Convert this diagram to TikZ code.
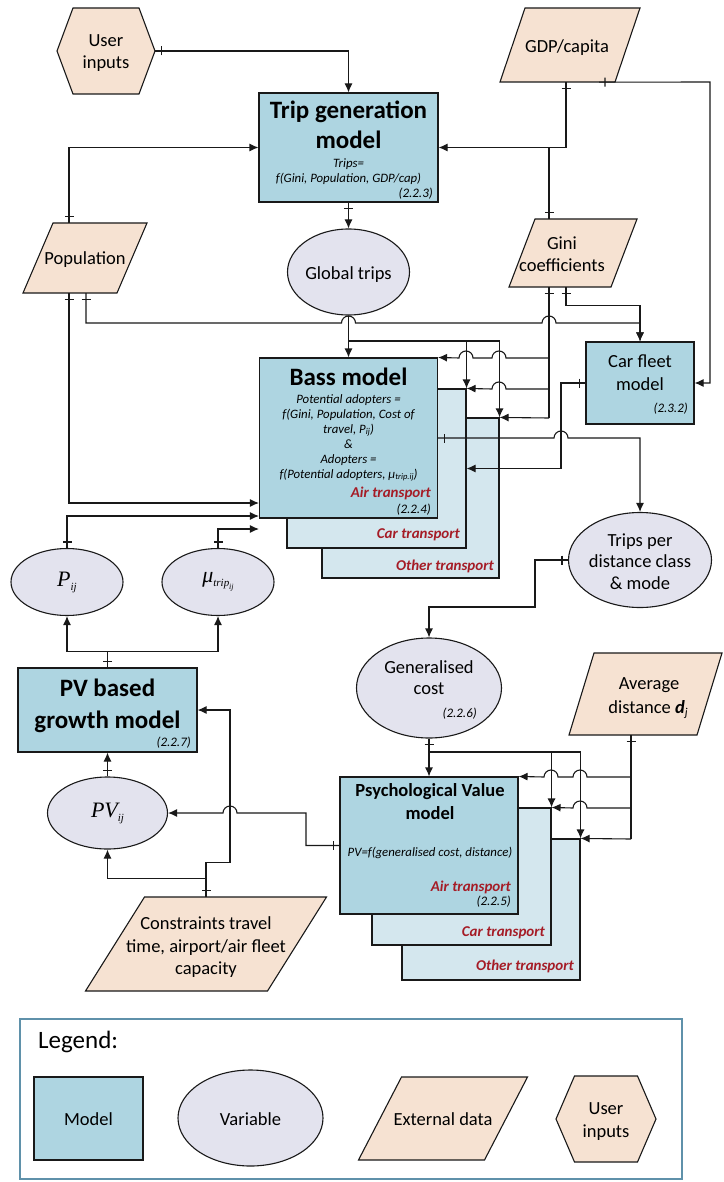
\documentclass[tikz,border=0pt]{standalone}
\usepackage{fontspec}
\setmainfont{Carlito}
\newfontfamily\tms{Liberation Serif}
\usetikzlibrary{arrows.meta,shapes.geometric,decorations.markings}

\definecolor{modelfill}{RGB}{174,213,225}
\definecolor{layerfill}{RGB}{212,231,238}
\definecolor{varfill}{RGB}{227,227,238}
\definecolor{datafill}{RGB}{246,226,210}
\definecolor{redtx}{RGB}{165,28,38}
\definecolor{legbord}{RGB}{95,145,170}
\definecolor{lncol}{RGB}{25,25,25}

\newcommand\fbig{\fontsize{25}{30}\selectfont\bfseries}
\newcommand\fmidb{\fontsize{18.5}{22}\selectfont\bfseries}
\newcommand\freg{\fontsize{18.5}{22}\selectfont}
\newcommand\fsit{\fontsize{12.8}{15}\selectfont\itshape}
\newcommand\fnum{\fontsize{13}{15}\selectfont\itshape}
\newcommand\fred{\fontsize{15}{18}\selectfont\bfseries\itshape}
\newcommand\fleg{\fontsize{25}{30}\selectfont}
\newcommand\sbs[1]{\raisebox{-4pt}{\fontsize{11}{11}\selectfont #1}}

% parallelogram: name, cx, cy, w, h, slant
\newcommand\pgram[6]{%
  \filldraw[shp] ({#2-#4/2+#6/2},{#3-#5/2}) -- ({#2+#4/2+#6/2},{#3-#5/2})
    -- ({#2+#4/2-#6/2},{#3+#5/2}) -- ({#2-#4/2-#6/2},{#3+#5/2}) -- cycle;
  \node[holder, minimum width=#4pt, minimum height=#5pt] (#1) at (#2,#3) {};}
% hexagon: name, cx, cy, total width, top width, height
\newcommand\myhex[6]{%
  \filldraw[shp] ({#2-#4/2},#3) -- ({#2-#5/2},{#3-#6/2}) -- ({#2+#5/2},{#3-#6/2})
    -- ({#2+#4/2},#3) -- ({#2+#5/2},{#3+#6/2}) -- ({#2-#5/2},{#3+#6/2}) -- cycle;
  \node[holder, minimum width=#4pt, minimum height=#6pt] (#1) at (#2,#3) {};}

\begin{document}
\begin{tikzpicture}[x=1pt,y=-1pt,
  mbox/.style={rectangle, draw=lncol, line width=1.1pt, fill=modelfill, inner sep=0},
  lbox/.style={rectangle, draw=lncol, line width=1.1pt, fill=layerfill, inner sep=0},
  var/.style={ellipse, draw=lncol, line width=1.1pt, fill=varfill, inner sep=0},
  holder/.style={rectangle, draw=none, inner sep=0},
  shp/.style={draw=lncol, line width=1.1pt, fill=datafill},
  wire/.style={draw=lncol, line width=1.1pt},
  conn/.style={wire, -{Latex[length=9pt,width=8pt]}},
  tk/.style={postaction=decorate, decoration={markings,
     mark=at position 6pt with {\draw[lncol, line width=1.1pt, -] (0pt,-4.5pt) -- (0pt,4.5pt);}}},
  tb/.style={inner sep=0, font=\fbig, text height=17.5pt, text depth=0pt},
  tmb/.style={inner sep=0, font=\fmidb, text height=13pt, text depth=0pt},
  tr/.style={inner sep=0, font=\freg, text height=13pt, text depth=0pt},
  ti/.style={inner sep=0, font=\fsit, text height=8.9pt, text depth=0pt},
  tn/.style={inner sep=0, font=\fnum, text height=9pt, text depth=0pt},
  tred/.style={inner sep=0, font=\fred, text=redtx, text height=10.5pt, text depth=0pt},
  tser/.style={inner sep=0, font=\fontsize{22}{22}\selectfont\tms\itshape}
]
\useasboundingbox (0,0) rectangle (723,1182);
\fill[white] (0,0) rectangle (723,1182);

% ---------------- shapes ----------------
\myhex{ui}{106}{51}{98}{66}{86}
\pgram{gdp}{570}{45}{115}{74}{25}
\pgram{pop}{85}{258}{94}{70}{30}
\pgram{gini}{573}{253}{102}{68}{26}
\pgram{ad}{645.5}{694}{128}{82}{25}
\pgram{cons}{206}{944}{182}{94}{59}

\node[mbox, minimum width=179pt, minimum height=109pt] (tg) at (348.5,147.5) {};
\node[var, minimum width=122pt, minimum height=86pt] (gt) at (348.5,272) {};

\node[lbox, minimum width=177pt, minimum height=160pt] (both) at (410.5,498) {};
\node[lbox, minimum width=179pt, minimum height=159pt] (bcar) at (376.5,468.5) {};
\node[mbox, minimum width=178pt, minimum height=160pt] (bass) at (348.5,438) {};

\node[mbox, minimum width=108pt, minimum height=82pt] (cf) at (640,383) {};
\node[var, minimum width=143pt, minimum height=95pt] (tp) at (640,560) {};
\node[var, minimum width=112pt, minimum height=67pt] (pij) at (67,582) {};
\node[var, minimum width=112pt, minimum height=67pt] (mu) at (218,582) {};
\node[mbox, minimum width=179pt, minimum height=84pt] (pvg) at (107.5,710) {};
\node[var, minimum width=120pt, minimum height=72pt] (pvij) at (107.5,813) {};
\node[var, minimum width=145pt, minimum height=100pt] (gc) at (429,688) {};

\node[lbox, minimum width=178pt, minimum height=141pt] (poth) at (491,909.5) {};
\node[lbox, minimum width=179pt, minimum height=137pt] (pcar) at (461.5,876.5) {};
\node[mbox, minimum width=178pt, minimum height=137pt] (pvm) at (429,845.5) {};

% ---------------- texts ----------------
\node[tr] (uit1) at (106,40) {User};
\node[tr] (uit2) at (106,62) {inputs};
\node[tr] (gdpt) at (567,46) {GDP/capita};
\node[tr] (popt) at (85,258) {Population};
\node[tr] (ginit1) at (562,243) {Gini};
\node[tr] (ginit2) at (562,265) {coefficients};
\node[tr] (gtt) at (348.5,273) {Global trips};

\node[tb] (tgt1) at (348.5,110) {Trip generation};
\node[tb] (tgt2) at (348.5,140) {model};
\node[ti] (tgt3) at (348.5,163) {Trips=};
\node[ti] (tgt4) at (348.5,178) {f(Gini, Population, GDP/cap)};
\node[tn, anchor=east] (tgt5) at (433,193) {(2.2.3)};

\node[tb] (bt1) at (348.5,377) {Bass model};
\node[ti] (bt2) at (348.5,399) {Potential adopters =};
\node[ti] (bt3) at (348.5,414) {f(Gini, Population, Cost of};
\node[ti] (bt4) at (348.5,429) {travel, P\raisebox{-1pt}{\fontsize{9}{9}\selectfont ij})};
\node[ti] (bt5) at (348.5,444) {\&};
\node[ti] (bt6) at (348.5,459) {Adopters =};
\node[ti] (bt7) at (348.5,474) {f(Potential adopters, μ\raisebox{-1pt}{\fontsize{8.5}{9}\selectfont trip.ij})};
\node[tred, anchor=east] (bt8) at (431,492) {Air transport};
\node[tn, anchor=east] (bt9) at (431,509) {(2.2.4)};
\node[tred, anchor=east] (bt10) at (460,533) {Car transport};
\node[tred, anchor=east] (bt11) at (494,565) {Other transport};

\node[tr] (cft1) at (640,361) {Car fleet};
\node[tr] (cft2) at (640,384) {model};
\node[tn, anchor=east] (cft3) at (688,408) {(2.3.2)};

\node[tr] (tpt1) at (640,540) {Trips per};
\node[tr] (tpt2) at (640,561) {distance class};
\node[tr] (tpt3) at (640,583) {\& mode};

\node[tser] (pijt) at (67,582) {P\sbs{ij}};
\node[tser] (mut) at (218,582) {μ\raisebox{-4pt}{\fontsize{11}{11}\selectfont trip\raisebox{-3pt}{\fontsize{8}{8}\selectfont ij}}};
\node[tser] (pvijt) at (107.5,813) {PV\sbs{ij}};

\node[tb] (pvgt1) at (107.5,688) {PV based};
\node[tb] (pvgt2) at (107.5,720) {growth model};
\node[tn, anchor=east] (pvgt3) at (191,742) {(2.2.7)};

\node[tr] (gct1) at (429,667) {Generalised};
\node[tr] (gct2) at (429,688) {cost};
\node[tn, anchor=east] (gct3) at (477,713) {(2.2.6)};

\node[tr] (adt1) at (649,683) {Average};
\node[tr] (adt2) at (648,707) {distance \textbf{\textit{d}}\raisebox{-3pt}{\fontsize{12}{12}\selectfont\textit{j}}};

\node[tmb] (pvmt1) at (430,790) {Psychological Value};
\node[tmb] (pvmt2) at (430,813) {model};
\node[ti] (pvmt3) at (430,852) {PV=f(generalised cost, distance)};
\node[tred, anchor=east] (pvmt4) at (511,886) {Air transport};
\node[tn, anchor=east] (pvmt5) at (511,901) {(2.2.5)};
\node[tred, anchor=east] (pvmt6) at (545,931) {Car transport};
\node[tred, anchor=east] (pvmt7) at (574,965) {Other transport};

\node[tr] (const1) at (206,923) {Constraints travel};
\node[tr] (const2) at (206,946) {time, airport/air fleet};
\node[tr] (const3) at (206,968) {capacity};

% ---------------- connectors ----------------
\draw[conn,tk] (ui.east) -| (tg.north);
\draw[conn,tk] ([xshift=-16pt]pop.north) |- (tg.west);
\draw[conn,tk] ([xshift=-4pt]gdp.south) |- (tg.east);
\draw[wire,tk] ([xshift=-24pt]gini.north) -- (549,147.5);
\draw[conn,tk] (tg.south) -- (gt.north);
\draw[conn] (gt.south) -- (bass.north);
\draw[conn] (348.5,341) -| (bcar.north east);
\draw[conn] (348.5,341) -| (both.north east);

\draw[conn,tk] ([xshift=-16pt]pop.south) |- ([yshift=-65pt]bass.west);
\draw[conn,tk] ([xshift=1pt]pop.south) |- (341.5,323)
   arc[start angle=180,end angle=360,radius=7] -- (542,323)
   arc[start angle=180,end angle=360,radius=7] -| (cf.north);
\draw[conn,tk] ([xshift=-7pt]gini.south) -- ++(0,18) -| (cf.north);

\draw[wire,tk] ([xshift=-24pt]gini.south) -- (549,418);
\draw[conn] (549,358) -- (506,358) arc[start angle=0,end angle=-180,radius=7]
   -- (473,358) arc[start angle=0,end angle=-180,radius=7] -- (bass.north east);
\draw[conn] (549,389) -- (506,389) arc[start angle=0,end angle=-180,radius=7]
   -- (bcar.north east);
\draw[conn] (549,418) -- (both.north east);

\draw[conn,tk] ([xshift=29pt]gdp.south) -- (710,82) |- (cf.east);
\draw[conn,tk] (cf.west) -- (561,383) |- (bcar.east);
\draw[conn,tk] (bass.east) -- (554,438) arc[start angle=180,end angle=360,radius=7] -| (tp.north);

\draw[conn,tk] (pij.north) |- ([yshift=-78pt]bass.west);
\draw[conn,tk] (mu.north) |- ([yshift=-91pt]bass.west);
\draw[conn,tk] (pvg.north) -- ++(0,-16) -| (pij.south);
\draw[conn] ([yshift=16pt]pvg.north) -| (mu.south);

\draw[conn,tk] (tp.west) -- (535,560) -- (535,607) -| (gc.north);

\draw[conn,tk] (gc.south) -- (pvm.north);
\draw[conn] (429,752) -| (pcar.north east);
\draw[conn] (429,752) -| (poth.north east);

\draw[wire,tk] ([xshift=-14.5pt]ad.south) -- (631,839);
\draw[conn] (631,777) -- (587,777) arc[start angle=0,end angle=-180,radius=7]
   -- (558,777) arc[start angle=0,end angle=-180,radius=7] -- (pvm.north east);
\draw[conn] (631,808) -- (587,808) arc[start angle=0,end angle=-180,radius=7]
   -- (pcar.north east);
\draw[conn] (631,839) -- (poth.north east);

\draw[conn,tk] (pvm.west) -- (306,845.5) -- (306,813) -- (237,813)
   arc[start angle=0,end angle=-180,radius=7] -- (pvij.east);
\draw[conn,tk] (pvij.north) -- (pvg.south);
\draw[conn,tk] (cons.north) -- ++(0,-18) -| (pvij.south);
\draw[conn] ([yshift=18pt]cons.north) -- ++(0,-16) -- ++(24,0) |- (pvg.east);

% ---------------- legend ----------------
\draw[legbord, line width=2.2pt] (20,1019) rectangle (682,1179);
\node[inner sep=0, font=\fleg, anchor=west, text height=17.5pt, text depth=0pt] (legt) at (38,1040) {Legend:};
\node[mbox, minimum width=109pt, minimum height=83pt] (lgm) at (88.5,1118.5) {};
\node[var, minimum width=145pt, minimum height=96pt] (lgv) at (250.5,1118) {};
\pgram{lgd}{443}{1118.5}{126}{83}{43}
\myhex{lgu}{606}{1119}{100}{63}{86}
\node[tr] (lgmt) at (88.5,1119) {Model};
\node[tr] (lgvt) at (250.5,1119) {Variable};
\node[tr] (lgdt) at (443,1119) {External data};
\node[tr] (lgut1) at (606,1108) {User};
\node[tr] (lgut2) at (606,1131) {inputs};
\end{tikzpicture}
\end{document}
